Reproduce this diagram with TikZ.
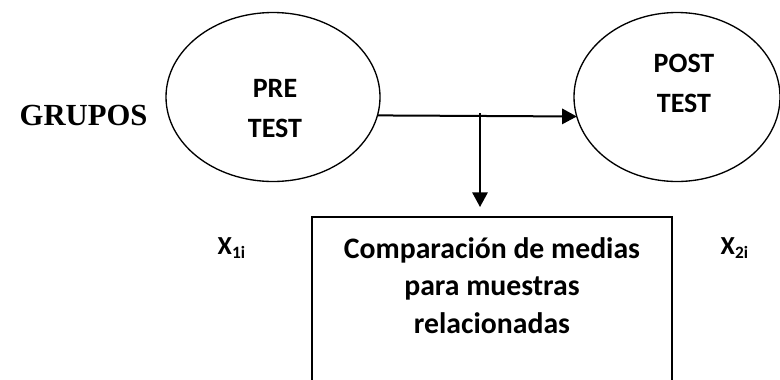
\documentclass[tikz,border=0pt]{standalone}
\usepackage{fontspec}
\setmainfont{Carlito}
\newfontfamily\timesfont{Liberation Serif}
\usetikzlibrary{arrows.meta,shapes.geometric}

\tikzset{
  testnode/.style={ellipse,draw,line width=1pt,outer sep=0pt,inner sep=0pt},
  arr/.style={line width=1.5pt,-{Triangle[length=11pt,width=11.5pt]}},
  txt/.style={font=\bfseries\fontsize{21}{30}\selectfont,align=center,anchor=base},
  var/.style={font=\bfseries\fontsize{19.5}{20}\selectfont,anchor=base west}
}

\begin{document}
\begin{tikzpicture}[x=0.75pt,y=-0.75pt]
  \clip (0,0) rectangle (780,379);
  % ellipses
  \node[testnode,minimum width=160.5pt,minimum height=126.75pt] (pre) at (273,97) {};
  \node[testnode,minimum width=154.5pt,minimum height=126.75pt] (post) at (677,97) {};
  \node[txt] (pretxt) at (275,137) {PRE\\TEST};
  \node[txt] (posttxt) at (684,112) {POST\\TEST};
  \node[anchor=base west,font=\timesfont\bfseries\fontsize{23}{24}\selectfont] (grupos) at (15,125) {GRUPOS};
  % box
  \node[draw,line width=1.3pt,anchor=north,minimum width=270pt,minimum height=153pt] (box) at (492,216) {};
  \node[txt,font=\bfseries\fontsize{22.3}{28}\selectfont] (cmp) at (492,333) {Comparación de medias\\para muestras\\relacionadas};
  \node[var] (x1) at (213,254) {X\raisebox{-3.5pt}{\fontsize{13}{13}\selectfont 1i}};
  \node[var] (x2) at (716,254) {X\raisebox{-3.5pt}{\fontsize{13}{13}\selectfont 2i}};
  % arrows
  \coordinate (split) at (480,113);
  \draw[arr] (pre.-10.9) -- (post.191.3);
  \draw[arr,shorten >=6.75pt] (split) -- (split |- box.north);
\end{tikzpicture}
\end{document}
